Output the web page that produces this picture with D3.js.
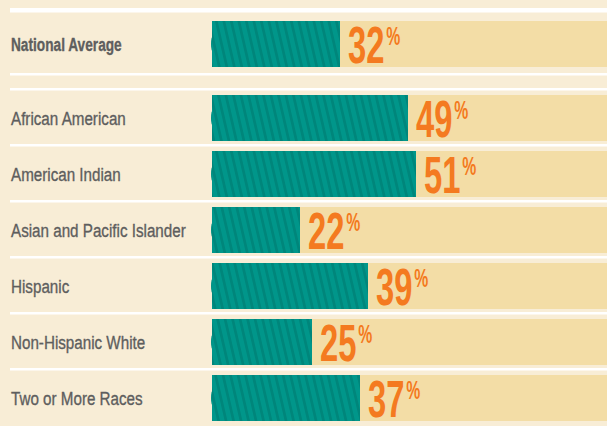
<!DOCTYPE html>
<meta charset="utf-8">
<head>
    <style>
        body { margin: 0; background: #f8edd6; }
        svg { display: block; }
        .lbl { font-family: "Liberation Sans", Arial, sans-serif; fill: #5e5e5e; stroke: #5e5e5e; stroke-width: 0.35px; }
        .pct { font-family: "Liberation Sans", Arial, sans-serif; fill: #f47a20; font-weight: bold; }
    </style>
    <script src="https://cdn.jsdelivr.net/npm/d3@7"></script>
</head>
<body></body>
<script>

    var width = 607,
        height = 426;

    // national figure sits on its own row above the groups
    var nationalLabel = "National Average",
        nationalValue = 32;

    var groups = ["African American", "American Indian", "Asian and Pacific Islander", "Hispanic", "Non-Hispanic White", "Two or More Races"],
        values = [49, 51, 22, 39, 25, 37];

    var padIn = 10 / 56,
        padOut = 5 / 56;

    var x = d3.scaleLinear().domain([0, 100]).range([212, 612]);

    var yNat = d3.scaleBand().domain([nationalLabel]).range([16, 72])
        .paddingInner(padIn).paddingOuter(padOut);

    var y = d3.scaleBand().domain(groups).range([90, 426])
        .paddingInner(padIn).paddingOuter(padOut);

    var svg = d3.select("body").append("svg")
        .attr("width", width)
        .attr("height", height);

    svg.append("rect").attr("width", width).attr("height", height).attr("fill", "#f8edd6");

    // diagonal stripes on the teal bars
    var pat = svg.append("defs").append("pattern")
        .attr("id", "stripes")
        .attr("patternUnits", "userSpaceOnUse")
        .attr("width", 7.5)
        .attr("height", 60)
        .attr("patternTransform", "skewX(13)");
    pat.append("rect").attr("width", 7.5).attr("height", 60).attr("fill", "#00968a");
    pat.append("rect").attr("x", 0).attr("width", 2.8).attr("height", 60).attr("fill", "#00867b");

    // white rules
    var rules = [[8, 4.5], [yNat(nationalLabel) + yNat.bandwidth() + 6, 2.5]];
    groups.forEach(function(g) { rules.push([y(g) - 7, 2.5]); });

    svg.selectAll(".rule")
      .data(rules)
        .enter().append("rect")
        .attr("class", "rule")
        .attr("x", 10)
        .attr("y", function(d) { return d[0]; })
        .attr("width", width - 10)
        .attr("height", function(d) { return d[1]; })
        .attr("fill", "#ffffff");

    var rows = [{ label: nationalLabel, value: nationalValue, top: yNat(nationalLabel), bold: true }];
    groups.forEach(function(g, i) {
        rows.push({ label: g, value: values[i], top: y(g), bold: false });
    });

    var bh = y.bandwidth();

    var row = svg.selectAll(".row")
      .data(rows)
        .enter().append("g")
        .attr("class", "row");

    // tan track
    row.append("rect")
        .attr("x", x(0))
        .attr("y", function(d) { return d.top; })
        .attr("width", width - x(0))
        .attr("height", bh)
        .attr("fill", "#f3dda6");

    // little rounded lip on the left of each bar
    row.append("ellipse")
        .attr("cx", x(0) + 1)
        .attr("cy", function(d) { return d.top + bh / 2; })
        .attr("rx", 2)
        .attr("ry", 8)
        .attr("fill", "#008e82");

    row.append("rect")
        .attr("x", x(0))
        .attr("y", function(d) { return d.top; })
        .attr("width", function(d) { return x(d.value) - x(0); })
        .attr("height", bh)
        .attr("fill", "url(#stripes)");

    // category labels
    row.append("text")
        .attr("class", "lbl")
        .attr("transform", function(d) {
            return "translate(11," + (d.top + bh / 2 + 6.5) + ") scale(" + (d.bold ? 0.72 : 0.8) + ",1)";
        })
        .style("font-size", "19px")
        .style("font-weight", function(d) { return d.bold ? "bold" : "normal"; })
        .text(function(d) { return d.label; });

    // percentage labels
    var pct = row.append("text")
        .attr("class", "pct")
        .attr("transform", function(d) {
            return "translate(" + (x(d.value) + 8) + "," + (d.top + 42) + ") scale(0.63,1)";
        });

    pct.append("tspan")
        .style("font-size", "52px")
        .text(function(d) { return d.value; });

    pct.append("tspan")
        .attr("dx", 3)
        .attr("dy", -18)
        .style("font-size", "25px")
        .text("%");

</script>
